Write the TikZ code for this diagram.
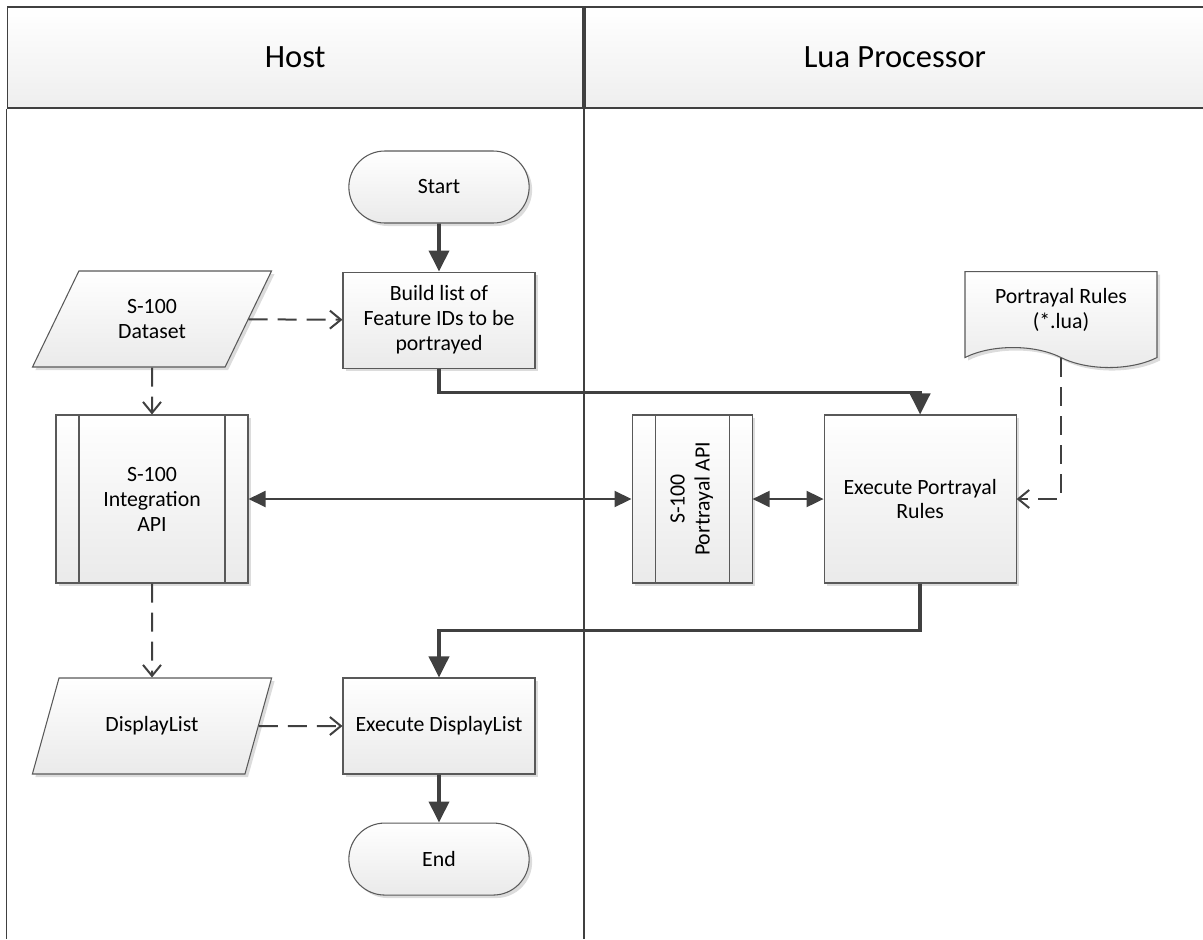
\documentclass[tikz,border=0pt]{standalone}
\usepackage{fontspec}
\setmainfont{Carlito}
\usetikzlibrary{positioning, arrows.meta, shapes.misc, shapes.geometric, shapes.symbols, shadows}

\definecolor{linegray}{HTML}{404040}
\definecolor{boxgray}{HTML}{595959}
\definecolor{fillgray}{HTML}{EAEAEA}
\definecolor{shadegray}{HTML}{DCDCDC}

\begin{document}
\begin{tikzpicture}[
    font=\fontsize{12.4}{14.2}\selectfont,
    lanehead/.style={rectangle, draw=linegray, line width=1.1pt, top color=white, bottom color=fillgray!80, minimum height=2.02cm, font=\fontsize{18.5}{22}\selectfont, text=black},
    laneline/.style={draw=linegray, line width=1.1pt},
    box/.style={draw=boxgray, line width=0.6pt, top color=white, bottom color=fillgray, drop shadow={shadow xshift=0.06cm, shadow yshift=-0.06cm, fill=shadegray, opacity=1}, minimum width=3.84cm, align=center, text=black},
    terminal/.style={box, rounded rectangle, minimum height=1.44cm},
    process/.style={box, rectangle, minimum height=1.92cm},
    subprocess/.style={box, rectangle, minimum height=3.36cm, path picture={
        \draw[boxgray, line width=0.6pt] ([xshift=0.46cm]path picture bounding box.north west) -- ([xshift=0.46cm]path picture bounding box.south west)
            ([xshift=-0.46cm]path picture bounding box.north east) -- ([xshift=-0.46cm]path picture bounding box.south east);}},
    inout/.style={box, trapezium, trapezium left angle=63.7, trapezium right angle=116.3, trapezium stretches=true, minimum width=4.8cm, minimum height=1.92cm},
    docshape/.style={box, tape, tape bend top=none, tape bend bottom=out and in, tape bend height=0.4cm, minimum height=1.92cm},
    flow/.style={-{Triangle[length=0.42cm, width=0.4cm]}, line width=0.075cm, draw=linegray},
    call/.style={{Triangle[length=0.34cm, width=0.32cm]}-{Triangle[length=0.34cm, width=0.32cm]}, line width=0.04cm, draw=linegray},
    dataflow/.style={-{Straight Barb[length=0.22cm, width=0.36cm]}, line width=0.04cm, draw=linegray, dash pattern=on 0.38cm off 0.2cm}
]
\useasboundingbox (0,0) rectangle (24.06,-18.78);
\clip (0,0) rectangle (24.06,-18.78);
\coordinate (bottom) at (0,-18.78);

% Swimlanes
\node[lanehead, minimum width=11.51cm] (host) at (5.905,-1.15) {Host};
\node[lanehead, minimum width=12.4cm, anchor=west] (lua) at (host.east) {Lua Processor};
\draw[laneline] (host.south west) -- (host.south west |- bottom);
\draw[laneline] (host.south east) -- (host.south east |- bottom);

% Nodes
\node[terminal] (start) at (8.78,-3.74) {Start};
\node[process, below=0.96cm of start] (build) {Build list of\\Feature IDs to be\\portrayed};
\node[inout] (dataset) at (3.04,-6.38) {S-100\\Dataset};
\node[subprocess] (intapi) at (3.04,-9.98) {S-100\\Integration\\API};
\node[subprocess, minimum width=2.4cm, right=7.66cm of intapi] (portapi) {\rotatebox{90}{\begin{tabular}{@{}c@{}}S-100\\Portrayal API\end{tabular}}};
\node[process, minimum height=3.36cm, right=1.42cm of portapi] (execrules) {Execute Portrayal\\Rules};
\node[docshape, anchor=north] (rules) at (21.22,-5.42) {Portrayal Rules\\(*.lua)};
\node[inout] (displaylist) at (3.04,-14.52) {DisplayList};
\node[process] (execdl) at (8.78,-14.52) {Execute DisplayList};
\node[terminal, below=0.96cm of execdl] (end) {End};

% Connections
\draw[flow] (start) -- (build);
\draw[dataflow] (dataset) -- (build);
\draw[dataflow] (dataset) -- (intapi);
\draw[flow] (build.south) -- ++(0,-0.48) -| (execrules);
\draw[call] (intapi) -- (portapi);
\draw[call] (portapi) -- (execrules);
\draw[dataflow] (rules) |- (execrules);
\draw[flow] (execrules.south) -- ++(0,-0.94) -| (execdl);
\draw[dataflow] (intapi) -- (displaylist);
\draw[dataflow] (displaylist) -- (execdl);
\draw[flow] (execdl) -- (end);

\end{tikzpicture}
\end{document}
